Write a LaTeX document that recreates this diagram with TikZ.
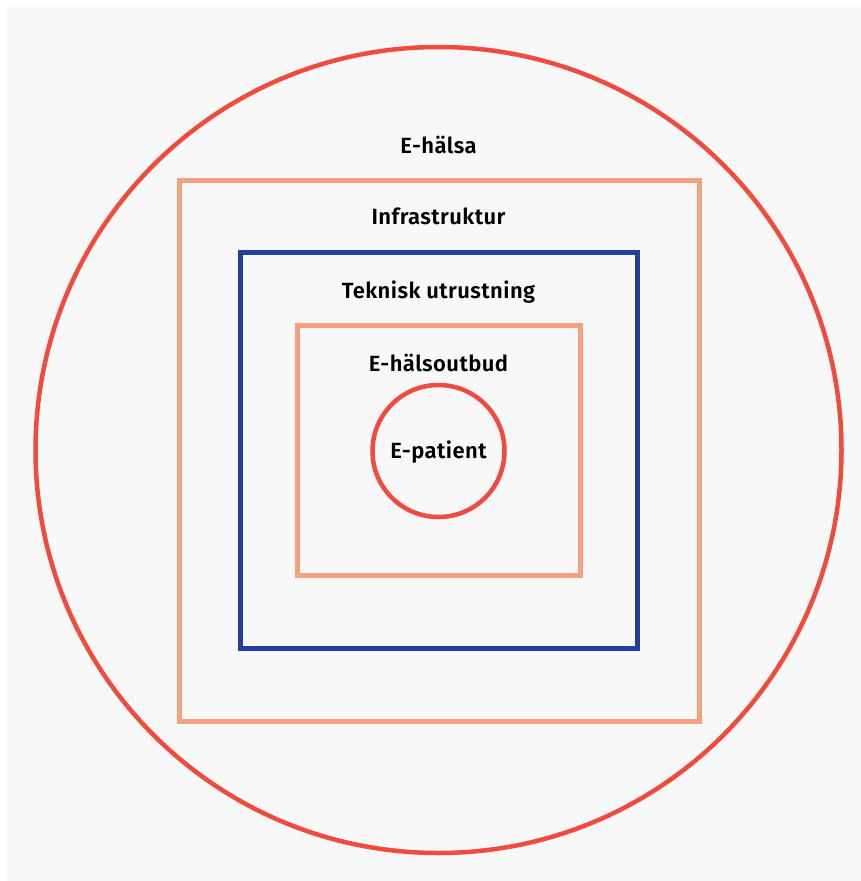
\documentclass[tikz,border=0pt]{standalone}
\usepackage{fontspec}
\setmainfont{Fira Sans}[BoldFont={Fira Sans SemiBold}, LetterSpace=2]
\definecolor{bg}{HTML}{F8F8F8}
\definecolor{cred}{HTML}{EF4B3F}
\definecolor{corange}{HTML}{F5A07F}
\definecolor{cblue}{HTML}{22409A}
\begin{document}
\begin{tikzpicture}[x=1pt,y=-1pt,
  lbl/.style={font=\fontsize{22}{26}\selectfont\bfseries, text=black, inner sep=0pt, anchor=base},
  redline/.style={draw=cred, line width=4.5pt},
  orline/.style={draw=corange, line width=5pt},
  blline/.style={draw=cblue, line width=5pt}]
\useasboundingbox (0,0) rectangle (861,881);
\fill[white] (0,0) rectangle (861,881);
\fill[bg] (7,7) rectangle (861,881);
\draw[redline] (438.5,450) circle (403);
\draw[orline] (179,180) rectangle (699,721);
\draw[blline] (240,252) rectangle (637,648);
\draw[orline] (297,325) rectangle (580,575);
\draw[redline] (438.5,451) circle (66);
\node[lbl] (ehalsa) at (438.5,153) {E-hälsa};
\node[lbl] (infra) at (438.5,224) {Infrastruktur};
\node[lbl] (tekn) at (438.5,298) {Teknisk utrustning};
\node[lbl] (utbud) at (438.5,371) {E-hälsoutbud};
\node[lbl] (epat) at (438.5,458) {E-patient};
\end{tikzpicture}
\end{document}
